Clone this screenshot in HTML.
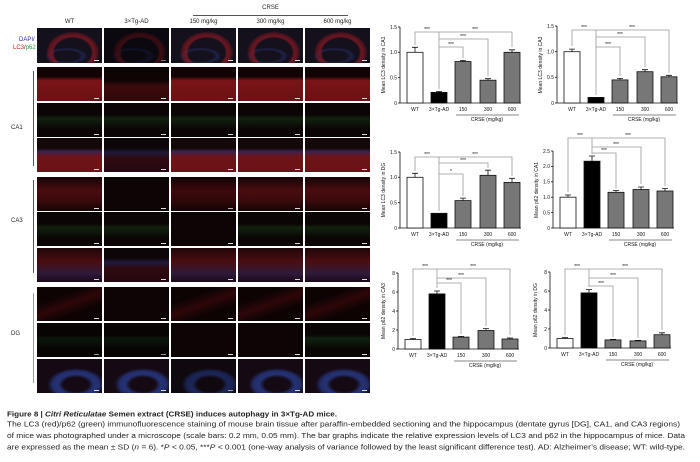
<!DOCTYPE html>
<html><head><meta charset="utf-8"><style>
body{margin:0;background:#fff;width:700px;height:462px;overflow:hidden;position:relative;font-family:"Liberation Sans",sans-serif}
.p{position:absolute;width:65px;height:34px;background:#0d0505}
.p:after{content:"";position:absolute;right:3px;bottom:2px;width:5px;height:1.5px;background:#ddd}
.top{height:35px;background:radial-gradient(ellipse 48% 70% at 55% 70%,transparent 58%,rgba(130,25,35,.8) 66%,rgba(120,22,30,.6) 78%,transparent 86%),radial-gradient(ellipse 40% 30% at 45% 80%,transparent 50%,rgba(40,50,120,.5) 65%,transparent 82%),#14101c}
.r1{background:linear-gradient(#120404 0%,#120404 28%,#7a1418 40%,#6a1215 100%)}
.r1d{background:linear-gradient(#0d0404 0%,#0d0404 40%,#3a0a0c 55%,#300809 100%)}
.g{background:linear-gradient(#0b0605 35%,#10200e 45%,#0d150b 60%,#0b0605 75%)}
.m{background:linear-gradient(#140808 0%,#140808 30%,#3a2250 40%,#6e1418 55%,#6a1215 100%)}
.md{background:linear-gradient(#0d0608 0%,#0d0608 30%,#1e1a3a 42%,#2e0a10 60%,#260810 100%)}
.c3r{background:linear-gradient(#150405,#4a0c0f 40%,#3a0a0c 70%,#150405)}
.c3m{background:linear-gradient(#200708,#4a0d12 40%,#2e1a3a 75%,#1a0a18)}
.dr{background:linear-gradient(160deg,#0d0303 30%,#2e0709 50%,#0d0303 70%)}
.dm{background:radial-gradient(ellipse 55% 60% at 60% 75%,transparent 35%,rgba(40,60,140,.8) 50%,rgba(38,54,128,.8) 65%,transparent 80%),#150a14}
.lbl{position:absolute;font-size:6px;color:#222}
</style></head><body>
<div class="lbl" style="left:193px;top:5px;width:155px;text-align:center">CRSE</div>
<div style="position:absolute;left:193px;top:15px;width:155px;height:1px;background:#555"></div>
<div class="lbl" style="left:37px;top:19px;width:65px;text-align:center">WT</div>
<div class="lbl" style="left:104px;top:19px;width:65px;text-align:center">3×Tg-AD</div>
<div class="lbl" style="left:171px;top:19px;width:65px;text-align:center">150 mg/kg</div>
<div class="lbl" style="left:238px;top:19px;width:65px;text-align:center">300 mg/kg</div>
<div class="lbl" style="left:305px;top:19px;width:65px;text-align:center">600 mg/kg</div>
<div class="lbl" style="left:19px;top:37px;color:#2a2aa0">DAPI/</div>
<div class="lbl" style="left:13px;top:45px"><span style="color:#c02020">LC3</span>/<span style="color:#20a040">p62</span></div>
<div class="lbl" style="left:11px;top:125px">CA1</div>
<div class="lbl" style="left:11px;top:218px">CA3</div>
<div class="lbl" style="left:11px;top:331px">DG</div>
<div style="position:absolute;left:33px;top:71px;width:1px;height:95px;background:#555"></div>
<div style="position:absolute;left:33px;top:180px;width:1px;height:93px;background:#555"></div>
<div style="position:absolute;left:33px;top:293px;width:1px;height:90px;background:#999"></div>
<div class="p top" style="left:37px;top:28px"></div><div class="p top" style="left:104px;top:28px;filter:brightness(.55)"></div><div class="p top" style="left:171px;top:28px"></div><div class="p top" style="left:238px;top:28px"></div><div class="p top" style="left:305px;top:28px"></div>
<div class="p r1" style="left:37px;top:67px"></div><div class="p r1d" style="left:104px;top:67px"></div><div class="p r1" style="left:171px;top:67px"></div><div class="p r1" style="left:238px;top:67px"></div><div class="p r1" style="left:305px;top:67px"></div>
<div class="p g" style="left:37px;top:103px"></div><div class="p g" style="left:104px;top:103px"></div><div class="p g" style="left:171px;top:103px"></div><div class="p g" style="left:238px;top:103px"></div><div class="p g" style="left:305px;top:103px"></div>
<div class="p m" style="left:37px;top:138px"></div><div class="p md" style="left:104px;top:138px"></div><div class="p m" style="left:171px;top:138px"></div><div class="p m" style="left:238px;top:138px"></div><div class="p m" style="left:305px;top:138px"></div>
<div class="p c3r" style="left:37px;top:177px"></div><div class="p" style="left:104px;top:177px"></div><div class="p c3r" style="left:171px;top:177px;filter:brightness(.8)"></div><div class="p c3r" style="left:238px;top:177px"></div><div class="p c3r" style="left:305px;top:177px"></div>
<div class="p g" style="left:37px;top:212px"></div><div class="p g" style="left:104px;top:212px"></div><div class="p" style="left:171px;top:212px"></div><div class="p g" style="left:238px;top:212px"></div><div class="p g" style="left:305px;top:212px"></div>
<div class="p c3m" style="left:37px;top:248px"></div><div class="p md" style="left:104px;top:248px"></div><div class="p c3m" style="left:171px;top:248px"></div><div class="p c3m" style="left:238px;top:248px"></div><div class="p c3m" style="left:305px;top:248px"></div>
<div class="p dr" style="left:37px;top:287px"></div><div class="p" style="left:104px;top:287px"></div><div class="p dr" style="left:171px;top:287px"></div><div class="p dr" style="left:238px;top:287px"></div><div class="p dr" style="left:305px;top:287px"></div>
<div class="p g" style="left:37px;top:323px;filter:brightness(.7)"></div><div class="p g" style="left:104px;top:323px;filter:brightness(.7)"></div><div class="p" style="left:171px;top:323px"></div><div class="p" style="left:238px;top:323px"></div><div class="p g" style="left:305px;top:323px"></div>
<div class="p dm" style="left:37px;top:359px"></div><div class="p dm" style="left:104px;top:359px"></div><div class="p dm" style="left:171px;top:359px;filter:brightness(.75)"></div><div class="p dm" style="left:238px;top:359px"></div><div class="p dm" style="left:305px;top:359px"></div>

<svg width="700" height="462" style="position:absolute;left:0;top:0" font-family="Liberation Sans, sans-serif">
<defs>
<g id="ax" font-size="5" fill="#111">
<line x1="0" y1="0" x2="121" y2="0" stroke="#111" stroke-width="0.8"/>
<text x="15" y="8" text-anchor="middle">WT</text><text x="39" y="8" text-anchor="middle">3×Tg-AD</text>
<text x="63" y="8" text-anchor="middle">150</text><text x="88" y="8" text-anchor="middle">300</text><text x="112" y="8" text-anchor="middle">600</text>
<line x1="56" y1="12" x2="119" y2="12" stroke="#111" stroke-width="0.6"/>
<text x="87" y="18" text-anchor="middle">CRSE (mg/kg)</text>
</g>
</defs>

<g transform="translate(400,103)" stroke-width="0.8">
<use href="#ax"/>
<line x1="0" y1="0" x2="0" y2="-76" stroke="#111"/>
<g stroke="#111"><line x1="-2" x2="0" y1="0" y2="0"/><line x1="-2" x2="0" y1="-25.3" y2="-25.3"/><line x1="-2" x2="0" y1="-50.7" y2="-50.7"/><line x1="-2" x2="0" y1="-76" y2="-76"/></g>
<g font-size="5" text-anchor="end" fill="#111"><text x="-3" y="2">0</text><text x="-3" y="-23.5">0.5</text><text x="-3" y="-49">1.0</text><text x="-3" y="-74">1.5</text></g>
<text transform="translate(-15,-38) rotate(-90)" font-size="5" text-anchor="middle" fill="#111">Mean LC3 density in CA1</text>
<g stroke="#111"><rect x="7" y="-50.7" width="16" height="50.7" fill="#fff"/><rect x="31" y="-10.6" width="16" height="10.6" fill="#000"/><rect x="55" y="-41.5" width="16" height="41.5" fill="#777"/><rect x="80" y="-22.8" width="16" height="22.8" fill="#777"/><rect x="104" y="-50.7" width="16" height="50.7" fill="#777"/>
<path d="M15-50.7V-55.7M12-55.7H18M39-10.6V-11.6M36-11.6H42M63-41.5V-42.6M60-42.6H66M88-22.8V-24.3M85-24.3H91M112-50.7V-53.2M109-53.2H115" fill="none"/></g>
<g fill="none" stroke="#999"><path d="M15-58V-71H39V-14M39-71H112V-56M39-64H88V-27M39-56H63V-45"/></g>
<g font-size="5" text-anchor="middle" fill="#111"><text x="27" y="-72">***</text><text x="75" y="-72">***</text><text x="63" y="-65">***</text><text x="51" y="-57">***</text></g>
</g>

<g transform="translate(557,103)" stroke-width="0.8">
<use href="#ax"/>
<line x1="0" y1="0" x2="0" y2="-77" stroke="#111"/>
<g stroke="#111"><line x1="-2" x2="0" y1="0" y2="0"/><line x1="-2" x2="0" y1="-25.7" y2="-25.7"/><line x1="-2" x2="0" y1="-51.3" y2="-51.3"/><line x1="-2" x2="0" y1="-77" y2="-77"/></g>
<g font-size="5" text-anchor="end" fill="#111"><text x="-3" y="2">0</text><text x="-3" y="-24">0.5</text><text x="-3" y="-49.5">1.0</text><text x="-3" y="-75">1.5</text></g>
<text transform="translate(-15,-38) rotate(-90)" font-size="5" text-anchor="middle" fill="#111">Mean LC3 density in CA3</text>
<g stroke="#111"><rect x="7" y="-51.3" width="16" height="51.3" fill="#fff"/><rect x="31" y="-5.6" width="16" height="5.6" fill="#000"/><rect x="55" y="-23.1" width="16" height="23.1" fill="#777"/><rect x="80" y="-31.3" width="16" height="31.3" fill="#777"/><rect x="104" y="-26.2" width="16" height="26.2" fill="#777"/>
<path d="M15-51.3V-53.9M12-53.9H18M63-23.1V-24.6M60-24.6H66M88-31.3V-33.3M85-33.3H91M112-26.2V-27.7M109-27.7H115" fill="none"/></g>
<g fill="none" stroke="#999"><path d="M15-57V-73H39V-8M39-73H112V-30M39-66H88V-36M39-56H63V-27"/></g>
<g font-size="5" text-anchor="middle" fill="#111"><text x="27" y="-74">***</text><text x="75" y="-74">***</text><text x="63" y="-67">***</text><text x="51" y="-57">***</text></g>
</g>

<g transform="translate(400,228)" stroke-width="0.8">
<use href="#ax"/>
<line x1="0" y1="0" x2="0" y2="-76" stroke="#111"/>
<g stroke="#111"><line x1="-2" x2="0" y1="0" y2="0"/><line x1="-2" x2="0" y1="-25.3" y2="-25.3"/><line x1="-2" x2="0" y1="-50.7" y2="-50.7"/><line x1="-2" x2="0" y1="-76" y2="-76"/></g>
<g font-size="5" text-anchor="end" fill="#111"><text x="-3" y="2">0</text><text x="-3" y="-23.5">0.5</text><text x="-3" y="-49">1.0</text><text x="-3" y="-74">1.5</text></g>
<text transform="translate(-15,-38) rotate(-90)" font-size="5" text-anchor="middle" fill="#111">Mean LC3 density in DG</text>
<g stroke="#111"><rect x="7" y="-50.7" width="16" height="50.7" fill="#fff"/><rect x="31" y="-14.7" width="16" height="14.7" fill="#000"/><rect x="55" y="-27.4" width="16" height="27.4" fill="#777"/><rect x="80" y="-52.7" width="16" height="52.7" fill="#777"/><rect x="104" y="-45.6" width="16" height="45.6" fill="#777"/>
<path d="M15-50.7V-54.7M12-54.7H18M63-27.4V-29.9M60-29.9H66M88-52.7V-57.8M85-57.8H91M112-45.6V-49.7M109-49.7H115" fill="none"/></g>
<g fill="none" stroke="#999"><path d="M15-57V-71H39V-17M39-71H112V-52M39-65H88V-60M39-54H63V-32"/></g>
<g font-size="5" text-anchor="middle" fill="#111"><text x="27" y="-72">***</text><text x="75" y="-72">***</text><text x="63" y="-66">***</text><text x="51" y="-55">*</text></g>
</g>

<g transform="translate(553,228)" stroke-width="0.8">
<use href="#ax"/>
<line x1="0" y1="0" x2="0" y2="-77" stroke="#111"/>
<g stroke="#111"><line x1="-2" x2="0" y1="0" y2="0"/><line x1="-2" x2="0" y1="-15.4" y2="-15.4"/><line x1="-2" x2="0" y1="-30.8" y2="-30.8"/><line x1="-2" x2="0" y1="-46.2" y2="-46.2"/><line x1="-2" x2="0" y1="-61.6" y2="-61.6"/><line x1="-2" x2="0" y1="-77" y2="-77"/></g>
<g font-size="5" text-anchor="end" fill="#111"><text x="-3" y="2">0</text><text x="-3" y="-13.5">0.5</text><text x="-3" y="-29">1.0</text><text x="-3" y="-44.5">1.5</text><text x="-3" y="-60">2.0</text><text x="-3" y="-75">2.5</text></g>
<text transform="translate(-15,-38) rotate(-90)" font-size="5" text-anchor="middle" fill="#111">Mean p62 density in CA1</text>
<g stroke="#111"><rect x="7" y="-30.8" width="16" height="30.8" fill="#fff"/><rect x="31" y="-66.8" width="16" height="66.8" fill="#000"/><rect x="55" y="-35.7" width="16" height="35.7" fill="#777"/><rect x="80" y="-38.5" width="16" height="38.5" fill="#777"/><rect x="104" y="-37" width="16" height="37" fill="#777"/>
<path d="M15-30.8V-33M12-33H18M39-66.8V-72M36-72H42M63-35.7V-37.5M60-37.5H66M88-38.5V-41M85-41H91M112-37V-39.5M109-39.5H115" fill="none"/></g>
<g fill="none" stroke="#999"><path d="M15-36V-90H39V-74M39-90H112V-42M39-81H88V-44M39-75H63V-40"/></g>
<g font-size="5" text-anchor="middle" fill="#111"><text x="27" y="-91">***</text><text x="75" y="-91">***</text><text x="63" y="-82">***</text><text x="51" y="-76">***</text></g>
</g>

<g transform="translate(398,349)" stroke-width="0.8">
<use href="#ax"/>
<line x1="0" y1="0" x2="0" y2="-76" stroke="#111"/>
<g stroke="#111"><line x1="-2" x2="0" y1="0" y2="0"/><line x1="-2" x2="0" y1="-19" y2="-19"/><line x1="-2" x2="0" y1="-38" y2="-38"/><line x1="-2" x2="0" y1="-57" y2="-57"/><line x1="-2" x2="0" y1="-76" y2="-76"/></g>
<g font-size="5" text-anchor="end" fill="#111"><text x="-3" y="2">0</text><text x="-3" y="-17">2</text><text x="-3" y="-36">4</text><text x="-3" y="-55">6</text><text x="-3" y="-74">8</text></g>
<text transform="translate(-13,-38) rotate(-90)" font-size="5" text-anchor="middle" fill="#111">Mean p62 density in CA3</text>
<g stroke="#111"><rect x="7" y="-9.5" width="16" height="9.5" fill="#fff"/><rect x="31" y="-55.1" width="16" height="55.1" fill="#000"/><rect x="55" y="-11.9" width="16" height="11.9" fill="#777"/><rect x="80" y="-18.5" width="16" height="18.5" fill="#777"/><rect x="104" y="-10" width="16" height="10" fill="#777"/>
<path d="M15-9.5V-10.5M12-10.5H18M39-55.1V-58M36-58H42M63-11.9V-12.6M60-12.6H66M88-18.5V-20.4M85-20.4H91M112-10V-11M109-11H115" fill="none"/></g>
<g fill="none" stroke="#999"><path d="M15-13V-80H39V-61M39-80H112V-14M39-71H88V-23M39-66H63V-15"/></g>
<g font-size="5" text-anchor="middle" fill="#111"><text x="27" y="-81">***</text><text x="75" y="-81">***</text><text x="63" y="-72">***</text><text x="51" y="-67">***</text></g>
</g>

<g transform="translate(550,348)" stroke-width="0.8">
<use href="#ax"/>
<line x1="0" y1="0" x2="0" y2="-76" stroke="#111"/>
<g stroke="#111"><line x1="-2" x2="0" y1="0" y2="0"/><line x1="-2" x2="0" y1="-19" y2="-19"/><line x1="-2" x2="0" y1="-38" y2="-38"/><line x1="-2" x2="0" y1="-57" y2="-57"/><line x1="-2" x2="0" y1="-76" y2="-76"/></g>
<g font-size="5" text-anchor="end" fill="#111"><text x="-3" y="2">0</text><text x="-3" y="-17">2</text><text x="-3" y="-36">4</text><text x="-3" y="-55">6</text><text x="-3" y="-74">8</text></g>
<text transform="translate(-13,-38) rotate(-90)" font-size="5" text-anchor="middle" fill="#111">Mean p62 density in DG</text>
<g stroke="#111"><rect x="7" y="-9.5" width="16" height="9.5" fill="#fff"/><rect x="31" y="-55.1" width="16" height="55.1" fill="#000"/><rect x="55" y="-8.1" width="16" height="8.1" fill="#777"/><rect x="80" y="-7.1" width="16" height="7.1" fill="#777"/><rect x="104" y="-13.3" width="16" height="13.3" fill="#777"/>
<path d="M15-9.5V-10.5M12-10.5H18M39-55.1V-58.4M36-58.4H42M63-8.1V-8.6M60-8.6H66M88-7.1V-7.6M85-7.6H91M112-13.3V-15.2M109-15.2H115" fill="none"/></g>
<g fill="none" stroke="#999"><path d="M15-13V-79H39V-61M39-79H112V-18M39-70H88V-10M39-62H63V-11"/></g>
<g font-size="5" text-anchor="middle" fill="#111"><text x="27" y="-80">***</text><text x="75" y="-80">***</text><text x="63" y="-71">***</text><text x="51" y="-63">***</text></g>
</g>

<g font-size="7.5" fill="#222">
<text x="7" y="416.5" font-weight="bold" textLength="330" lengthAdjust="spacingAndGlyphs">Figure 8  |  <tspan font-style="italic">Citri Reticulatae</tspan> Semen extract (CRSE) induces autophagy in 3×Tg-AD mice.</text>
<text x="7" y="426.5" textLength="673" lengthAdjust="spacingAndGlyphs">The LC3 (red)/p62 (green) immunofluorescence staining of mouse brain tissue after paraffin-embedded sectioning and the hippocampus (dentate gyrus [DG], CA1, and CA3 regions)</text>
<text x="7" y="438" textLength="678" lengthAdjust="spacingAndGlyphs">of mice was photographed under a microscope (scale bars: 0.2 mm, 0.05 mm). The bar graphs indicate the relative expression levels of LC3 and p62 in the hippocampus of mice. Data</text>
<text x="7" y="449.5" textLength="678" lengthAdjust="spacingAndGlyphs">are expressed as the mean ± SD (<tspan font-style="italic">n</tspan> = 6). *<tspan font-style="italic">P</tspan> &lt; 0.05, ***<tspan font-style="italic">P</tspan> &lt; 0.001 (one-way analysis of variance followed by the least significant difference test). AD: Alzheimer’s disease; WT: wild-type.</text>
</g>
</svg>
</body></html>
